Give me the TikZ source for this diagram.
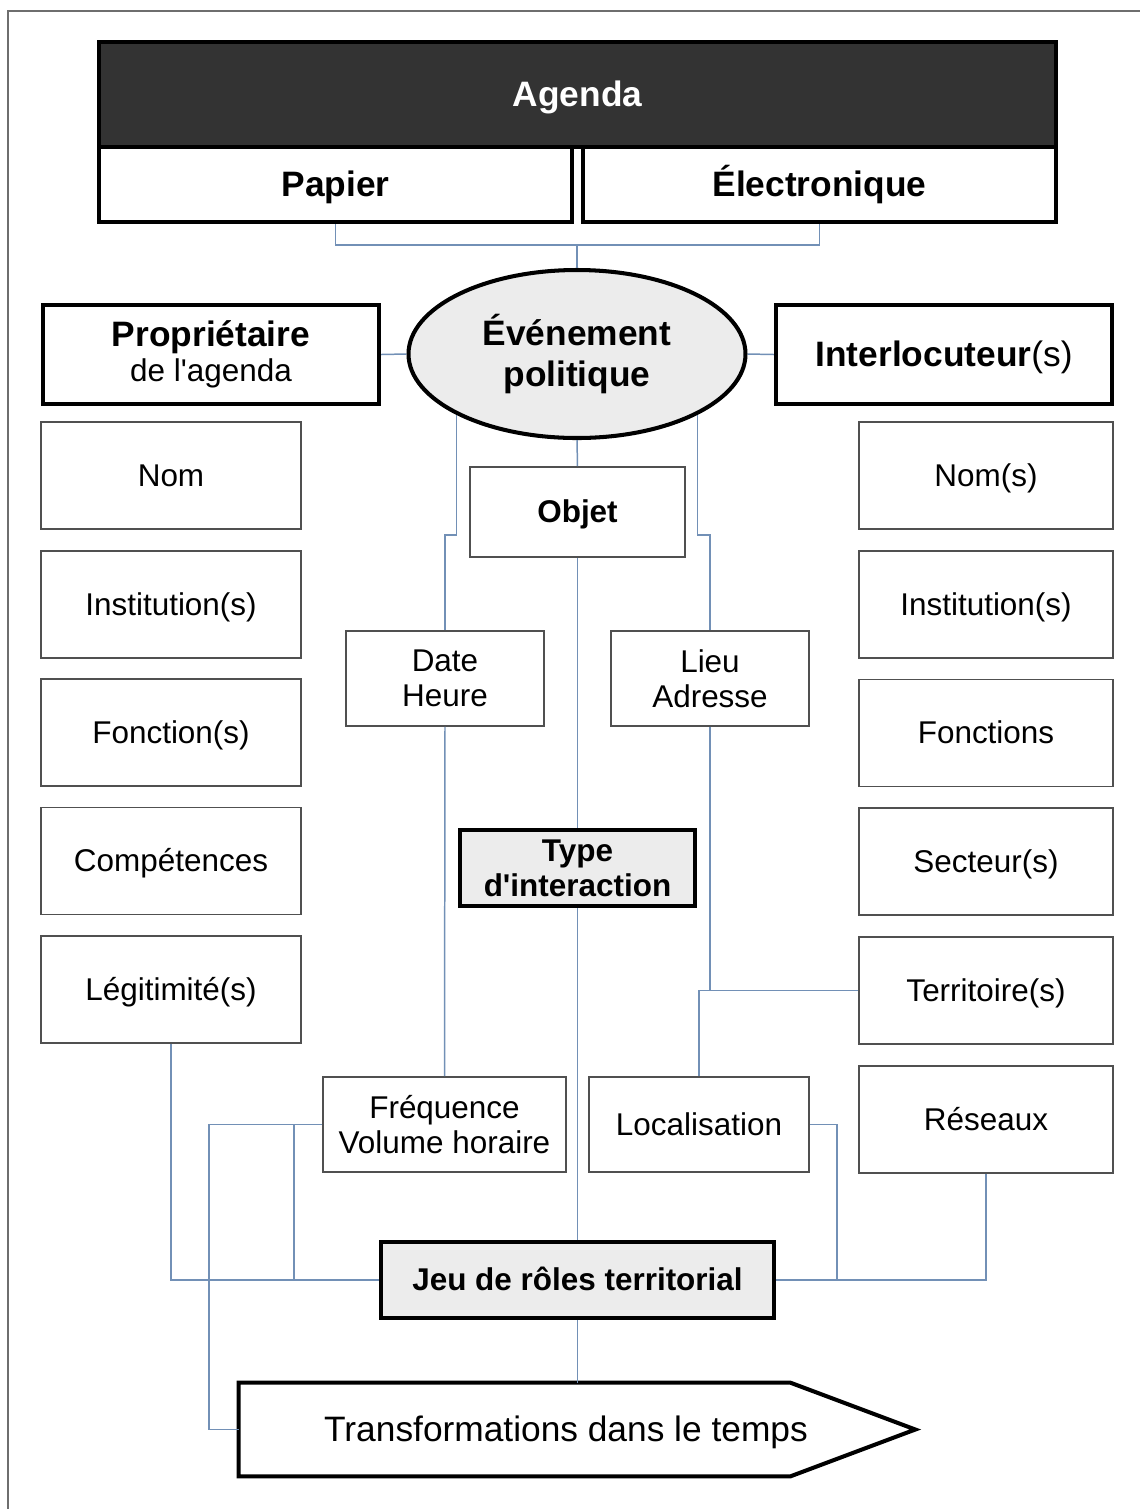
\documentclass[tikz,border=0pt]{standalone}
\usepackage{fontspec}
\setmainfont{Liberation Sans}
\usepackage{tikz}
\usepackage{xcolor}
\usetikzlibrary{shapes, calc, positioning}
\definecolor{linkblue}{RGB}{114,144,182}
\definecolor{boxgrey}{RGB}{80,80,80}
\definecolor{framegrey}{RGB}{110,110,110}
\definecolor{agendadark}{RGB}{51,51,51}
\definecolor{lightfill}{RGB}{236,236,236}
\newcommand{\txtbig}{\fontsize{20.1}{22.8}\selectfont}
\newcommand{\txtnorm}{\fontsize{17.9}{20}\selectfont}
\tikzset{textbox/.style={rectangle, inner sep=0pt, align=center}}
\tikzset{linenorm/.style={text height=16.2pt, text depth=3.8pt}}
\tikzset{linebig/.style={text height=18.2pt, text depth=4.26pt}}
\tikzset{thinbox/.style={textbox, draw=boxgrey, line width=0.9pt, font=\txtnorm}}
\tikzset{sidebox/.style={thinbox, linenorm, minimum height=2.14cm}}
\tikzset{thickbox/.style={textbox, draw=black, line width=2.3pt}}
\tikzset{greybox/.style={thickbox, fill=lightfill, font=\txtnorm\bfseries}}
\tikzset{link/.style={draw=linkblue, line width=0.85pt}}

\begin{document}
\begin{tikzpicture}
            \useasboundingbox (0, 0) rectangle (22.8, -30.18);
            \draw [framegrey, line width=0.8pt] (0.16, -30.18) -- (0.16, -0.22) -- (22.8, -0.22);

            \node [thickbox, linebig, fill=agendadark, text=white, font=\txtbig\bfseries, minimum width=19.14cm, minimum height=2.1cm] (Agenda) at (11.55, -1.89) {Agenda};
            \node [thickbox, linebig, font=\txtbig\bfseries, minimum width=9.46cm, minimum height=1.5cm] (Papier) at (6.71, -3.69) {Papier};
            \node [thickbox, linebig, font=\txtbig\bfseries, minimum width=9.46cm, minimum height=1.5cm] (Elec) at (16.39, -3.69) {Électronique};

            \node [ellipse, draw=black, line width=2.3pt, fill=lightfill, inner sep=0pt, align=center, font=\txtbig\bfseries, minimum width=6.74cm, minimum height=3.36cm] (Event) at (11.54, -7.08) {Événement\\politique};

            \node [thickbox, minimum width=6.72cm, minimum height=1.98cm] (Prop) at (4.22, -7.09) {{\txtbig\bfseries Propriétaire}\\[1.8pt]{\txtnorm de l\textquotesingle agenda}};
            \node [thickbox, linebig, font=\txtbig, minimum width=6.72cm, minimum height=1.98cm] (Inter) at (18.88, -7.09) {{\bfseries Interlocuteur}(s)};

            \node [sidebox, minimum width=5.2cm] (PNom) at (3.42, -9.51) {Nom};
            \node [sidebox, minimum width=5.2cm] (PInst) at (3.42, -12.09) {Institution(s)};
            \node [sidebox, minimum width=5.2cm] (PFonc) at (3.42, -14.65) {Fonction(s)};
            \node [sidebox, minimum width=5.2cm] (PComp) at (3.42, -17.22) {Compétences};
            \node [sidebox, minimum width=5.2cm] (PLegi) at (3.42, -19.79) {Légitimité(s)};

            \node [sidebox, minimum width=5.08cm] (INom) at (19.72, -9.51) {Nom(s)};
            \node [sidebox, minimum width=5.08cm] (IInst) at (19.72, -12.09) {Institution(s)};
            \node [sidebox, minimum width=5.08cm] (IFonc) at (19.72, -14.66) {Fonctions};
            \node [sidebox, minimum width=5.08cm] (ISect) at (19.72, -17.23) {Secteur(s)};
            \node [sidebox, minimum width=5.08cm] (ITerr) at (19.72, -19.81) {Territoire(s)};
            \node [sidebox, minimum width=5.08cm] (IRes) at (19.72, -22.39) {Réseaux};

            \node [thinbox, linenorm, font=\txtnorm\bfseries, minimum width=4.3cm, minimum height=1.8cm] (Objet) at (11.55, -10.24) {Objet};
            \node [thinbox, minimum width=3.96cm, minimum height=1.9cm] (Date) at (8.9, -13.57) {Date\\Heure};
            \node [thinbox, minimum width=3.96cm, minimum height=1.9cm] (Lieu) at (14.2, -13.57) {Lieu\\Adresse};
            \node [greybox, minimum width=4.7cm, minimum height=1.52cm] (Type) at (11.55, -17.36) {Type\\d\textquotesingle interaction};
            \node [thinbox, minimum width=4.86cm, minimum height=1.9cm] (Freq) at (8.89, -22.49) {Fréquence\\Volume horaire};
            \node [thinbox, linenorm, minimum width=4.4cm, minimum height=1.9cm] (Loc) at (13.98, -22.49) {Localisation};
            \node [greybox, linenorm, minimum width=7.86cm, minimum height=1.52cm] (Jeu) at (11.55, -25.6) {Jeu de rôles territorial};

            \node [textbox, linebig, font=\txtbig, minimum width=13.08cm, minimum height=1.86cm] (Trans) at (11.32, -28.59) {Transformations dans le temps};
            \draw [line width=2.3pt, line join=miter] (Trans.north west) -- ([xshift=-2.06cm]Trans.north east) -- ([xshift=0.44cm]Trans.east) -- ([xshift=-2.06cm]Trans.south east) -- (Trans.south west) -- cycle;

            \draw [link] (Papier.south) -- ++(0, -0.42) -| (Elec.south);
            \draw [link] (Event.north) -- ++(0, 0.46);
            \draw [link] (Prop.east) -- (Event.west);
            \draw [link] (Event.east) -- (Inter.west);
            \draw [link] (Event.south) -- (Objet.north);
            \draw [link] (Objet.south) -- (Type.north);
            \draw [link] (Type.south) -- (Jeu.north);
            \draw [link] (Jeu.south) -- (Jeu.south |- Trans.north);
            \draw [link] (Event.south west) |- ([yshift=1.9cm]Date.north) -- (Date.north);
            \draw [link] (Event.south east) |- ([yshift=1.9cm]Lieu.north) -- (Lieu.north);
            \draw [link] (Date.south) -- (Freq.north);
            \draw [link] (Lieu.south) -- (Lieu.south |- ITerr.west);
            \draw [link] (ITerr.west) -| (Loc.north);
            \draw [link] (PLegi.south) |- (Jeu.west);
            \draw [link] (Freq.west) -- ++(-0.56, 0) |- (Jeu.west);
            \draw [link] (Freq.west) -- ++(-2.26, 0) |- (Trans.west);
            \draw [link] (Jeu.east) -- ++(1.22, 0) |- (Loc.east);
            \draw [link] (Jeu.east) -| (IRes.south);
        \end{tikzpicture}
\end{document}
